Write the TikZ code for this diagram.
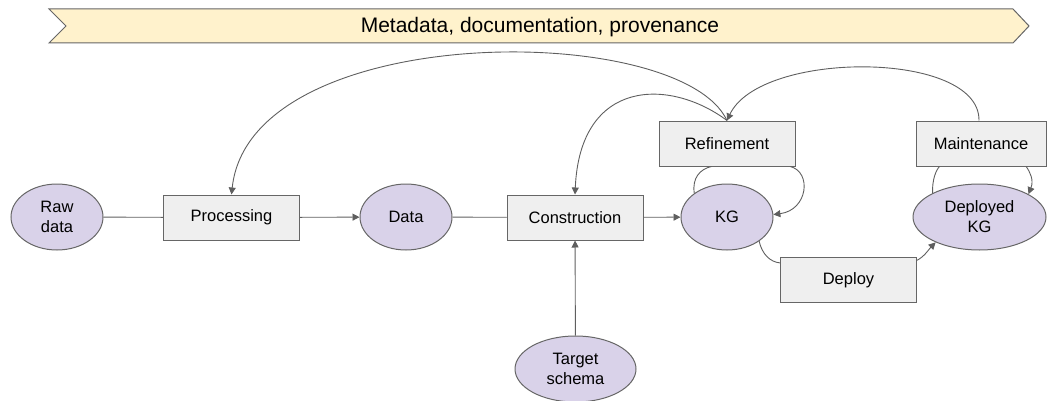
\documentclass[tikz,border=0pt]{standalone}
\usepackage{fontspec}
\setmainfont{Liberation Sans}
\usetikzlibrary{arrows.meta,shapes.geometric}
\definecolor{boxfill}{HTML}{EFEFEF}
\definecolor{blobfill}{HTML}{D9D2E9}
\definecolor{bannerfill}{HTML}{FFF2CC}
\definecolor{linegray}{HTML}{666666}
\definecolor{edgegray}{HTML}{5F5F5F}

\begin{document}
\begin{tikzpicture}[x=1pt, y=-1pt,
		box/.style={draw=linegray, fill=boxfill, line width=1pt, minimum width=136pt, minimum height=45pt, inner sep=0pt, font=\fontsize{16.5}{20}\selectfont},
		blob/.style={ellipse, draw=linegray, fill=blobfill, line width=1pt, minimum width=92pt, minimum height=66pt, inner sep=0pt, align=center, font=\fontsize{16.5}{20}\selectfont},
		link/.style={draw=edgegray, line width=0.9pt},
		arr/.style={link, -{Triangle[length=7pt, width=7pt]}}]
		\useasboundingbox (0, 0) rectangle (1048, 401);
		%%
		\draw[draw=linegray, fill=bannerfill, line width=1pt] (49, 9) -- (1013, 9) -- (1029, 26) -- (1013, 43) -- (49, 43) -- (66, 26) -- cycle;
		\node (meta) at (540, 27) {\fontsize{21}{24}\selectfont Metadata, documentation, provenance};
		%%
		\node[blob] (raw) at (57, 217) {Raw\\data};
		\node[box] (proc) at (231.5, 217.5) {Processing};
		\node[blob] (data) at (406, 217) {Data};
		\node[box] (cons) at (575, 217.5) {Construction};
		\node[blob] (kg) at (727, 217) {KG};
		\node[box] (ref) at (727, 143.5) {Refinement};
		\node[box] (deploy) at (848.5, 280) {Deploy};
		\node[box, minimum width=130pt] (maint) at (981, 143.5) {Maintenance};
		\node[blob, minimum width=133pt] (dkg) at (979.5, 217) {Deployed\\KG};
		\node[blob, minimum width=121pt] (target) at (575.5, 369) {Target\\schema};
		%%
		\draw[link] (raw) -- (proc);
		\draw[arr] (proc) -- (data);
		\draw[link] (data) -- (cons);
		\draw[arr] (cons) -- (kg);
		\draw[arr] (target) -- (cons);
		%%
		\draw[arr] (ref.north) .. controls (680, 20) and (250, 20) .. (proc.north);
		\draw[arr] (ref.north) .. controls (670, 78) and (580, 78) .. (cons.north);
		\draw[arr] (maint.95) .. controls (980, 50) and (760, 50) .. (ref.north);
		%%
		\draw[link] (kg.144) .. controls (692, 178) and (700, 169) .. (ref.236);
		\draw[arr] (ref.-20) .. controls (812, 172) and (808, 210) .. (kg.3);
		\draw[link] (kg.-37) .. controls (762, 254) and (770, 262) .. (deploy.166);
		\draw[arr] (deploy.16) .. controls (925, 256) and (929, 249) .. (dkg.210);
		\draw[link] (dkg.153) .. controls (932, 180) and (936, 170) .. (maint.209);
		\draw[arr] (maint.-27) .. controls (1030, 172) and (1034, 180) .. (dkg.25);
	\end{tikzpicture}
\end{document}
